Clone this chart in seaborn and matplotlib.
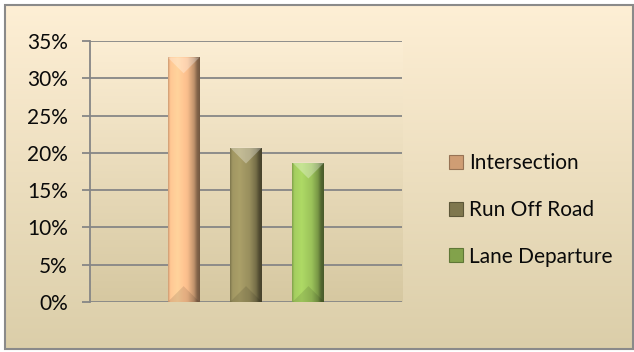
import numpy as np
import pandas as pd
import matplotlib
matplotlib.use("Agg")
import matplotlib.pyplot as plt
import seaborn as sns
from matplotlib.colors import to_rgb
from matplotlib.patches import Polygon, Rectangle
from matplotlib.ticker import PercentFormatter

# Share of fatal crashes by crash type
crash_types = ["Intersection", "Run Off Road", "Lane Departure"]
shares = [0.328, 0.207, 0.187]
bar_colors = ["#FCC08E", "#9B915F", "#9EC65C"]
y_ticks = [0.0, 0.05, 0.10, 0.15, 0.20, 0.25, 0.30, 0.35]

sns.set_theme(style="white")
plt.rcParams["font.family"] = ["Lato", "DejaVu Sans"]

W, H = 634, 352
fig = plt.figure(figsize=(W / 100, H / 100), dpi=100)
fig.patch.set_facecolor("white")


def vertical_gradient(top, bottom, n=256):
    t = np.linspace(0, 1, n)[:, None, None]
    a = np.array(to_rgb(top))[None, None, :]
    b = np.array(to_rgb(bottom))[None, None, :]
    return a * (1 - t) + b * t


# Chart-area background with a thin grey frame
bg = fig.add_axes([0, 0, 1, 1], zorder=-10)
bg.set_xlim(0, W)
bg.set_ylim(H, 0)
bg.axis("off")
bg.imshow(vertical_gradient("#FEEFD5", "#DBCEA9"), extent=(5, 633, 349, 5),
          aspect="auto", interpolation="bicubic")
bg.add_patch(Rectangle((5, 5), 628, 344, fill=False, edgecolor="#8A8A8A", lw=1.5))

# Plot area
ax = fig.add_axes([90 / W, 1 - 302 / H, 312 / W, 261 / H])
ax.patch.set_alpha(0)
ax.imshow(vertical_gradient("#FCEED4", "#D6C8A1"), extent=(0, 1, 0, 1),
          transform=ax.transAxes, aspect="auto", zorder=0, interpolation="bicubic")

df = pd.DataFrame({"group": [""] * len(crash_types), "type": crash_types, "share": shares})
sns.barplot(data=df, x="group", y="share", hue="type", hue_order=crash_types,
            palette=bar_colors, saturation=1, width=0.6, gap=0.49,
            edgecolor="none", linewidth=0, ax=ax, zorder=3)

ax.set_xlim(-0.5, 0.5)
ax.set_ylim(0, 0.35)
ax.set_yticks(y_ticks)
ax.yaxis.set_major_formatter(PercentFormatter(1.0, decimals=0))
ax.set_xlabel("")
ax.set_ylabel("")
ax.set_xticks([])

ax.set_axisbelow(True)
ax.grid(axis="y", color="#868686", lw=1.3)
for side in ("top", "right", "bottom"):
    ax.spines[side].set_visible(False)
ax.spines["left"].set_color("#868686")
ax.spines["left"].set_linewidth(1.3)
ax.tick_params(axis="y", left=True, length=6, width=1.3, color="#868686",
               pad=10, labelsize=15, labelcolor="#0A0A0A")

# Bevelled shading on each bar
xscale = 312 / 1.0
yscale = 261 / 0.35
profile_t = [0.0, 0.07, 0.3, 0.62, 0.82, 0.92, 1.0]
profile_f = [0.82, 1.04, 1.1, 0.98, 0.76, 0.52, 0.46]
bars = [p for p in ax.patches if isinstance(p, Rectangle) and p.get_height() > 0]
for bar in bars:
    x0, w, h = bar.get_x(), bar.get_width(), bar.get_height()
    base = np.array(bar.get_facecolor()[:3])
    t = np.linspace(0, 1, 64)
    f = np.interp(t, profile_t, profile_f)
    row = np.clip(base[None, :] * f[:, None], 0, 1)
    img = ax.imshow(row[None, :, :], extent=(x0, x0 + w, 0, h), aspect="auto",
                    zorder=4, interpolation="bilinear")
    img.set_clip_path(bar)
    d = (w * xscale / 2) / yscale
    ax.add_patch(Polygon([(x0, h), (x0 + w, h), (x0 + w / 2, h - d)],
                         closed=True, facecolor="white", alpha=0.3,
                         edgecolor="none", zorder=5))
    ax.add_patch(Polygon([(x0, 0), (x0 + w, 0), (x0 + w / 2, d)],
                         closed=True, facecolor="black", alpha=0.1,
                         edgecolor="none", zorder=5))

ax.set_xlim(-0.5, 0.5)
ax.set_ylim(0, 0.35)

# Legend to the right of the plot area
handles = [Rectangle((0, 0), 1, 1, facecolor=tuple(np.array(to_rgb(c)) * 0.82),
                     edgecolor=tuple(np.array(to_rgb(c)) * 0.6), lw=0.8)
           for c in bar_colors]
if ax.get_legend() is not None:
    ax.get_legend().remove()
ax.legend(handles, crash_types, loc="center left",
          bbox_to_anchor=(449 / W, 1 - 210 / H), bbox_transform=fig.transFigure,
          frameon=False, borderpad=0, borderaxespad=0, handlelength=0.65,
          handleheight=0.65, handletextpad=0.3, labelspacing=1.28, fontsize=15,
          labelcolor="#0A0A0A")

fig.savefig("out.png", dpi=100)
